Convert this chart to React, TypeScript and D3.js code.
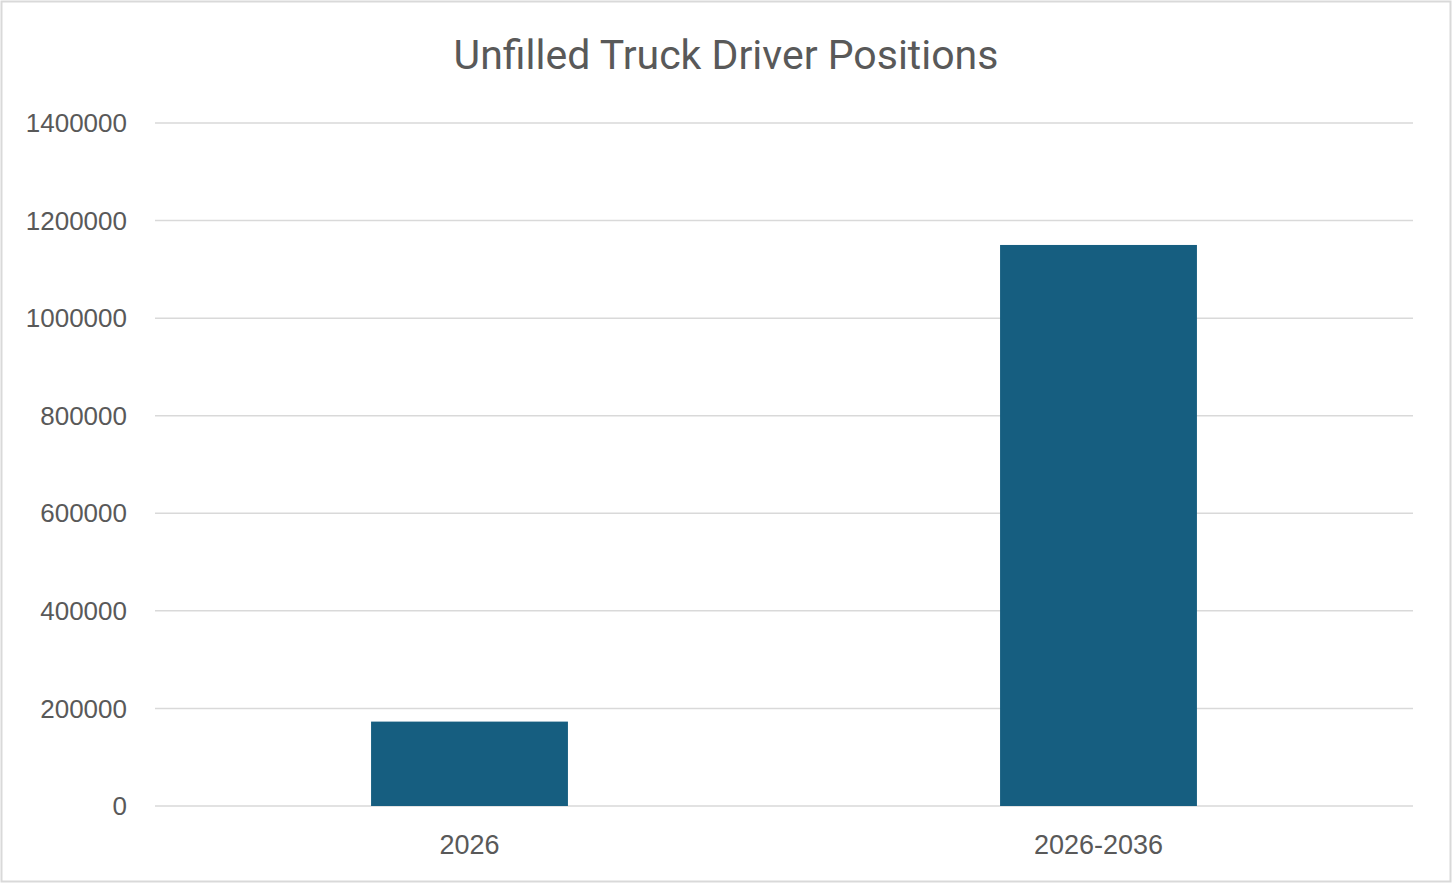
import React, { useRef, useEffect } from 'react';
import * as d3 from 'd3';

const categories = ['2026', '2026-2036'];
const values = [173000, 1150000];
const yTicks = [0, 200000, 400000, 600000, 800000, 1000000, 1200000, 1400000];

const colors = {
  bar: '#165E80',
  text: '#595959',
  grid: '#D9D9D9',
};

const App: React.FC = () => {
  const svgRef = useRef<SVGSVGElement>(null);
  const width = 1456;
  const height = 889;

  useEffect(() => {
    document.body.style.margin = '0';
    if (!svgRef.current) return;
    const svg = d3.select(svgRef.current);
    svg.selectAll('*').remove();

    const margin = { top: 123, right: 43, bottom: 83, left: 155 };
    const w = width - margin.left - margin.right;
    const h = height - margin.top - margin.bottom;

    // outer frame
    svg.append('rect')
      .attr('x', 1.5)
      .attr('y', 1.5)
      .attr('width', 1449)
      .attr('height', 880)
      .attr('fill', '#fff')
      .attr('stroke', colors.grid)
      .attr('stroke-width', 2);

    const g = svg.append('g')
      .attr('transform', `translate(${margin.left},${margin.top})`);

    const x = d3.scaleBand<string>()
      .domain(categories)
      .range([0, w])
      .paddingInner(0.687)
      .paddingOuter(0.3435);

    const y = d3.scaleLinear()
      .domain([0, 1400000])
      .range([h, 0]);

    // gridlines
    g.selectAll('.grid')
      .data(yTicks)
      .enter()
      .append('line')
      .attr('x1', 0)
      .attr('x2', w)
      .attr('y1', d => y(d))
      .attr('y2', d => y(d))
      .attr('stroke', colors.grid)
      .attr('stroke-width', 1.5);

    // bars
    g.selectAll('.bar')
      .data(values)
      .enter()
      .append('rect')
      .attr('x', (d, i) => x(categories[i])!)
      .attr('y', d => y(d))
      .attr('width', x.bandwidth())
      .attr('height', d => h - y(d))
      .attr('fill', colors.bar);

    // y tick labels
    g.selectAll('.ylab')
      .data(yTicks)
      .enter()
      .append('text')
      .attr('x', -28)
      .attr('y', d => y(d))
      .attr('dy', '0.35em')
      .attr('text-anchor', 'end')
      .attr('font-family', '"Liberation Sans", Arial, sans-serif')
      .attr('font-size', '26px')
      .attr('fill', colors.text)
      .text(d => String(d));

    // x labels
    g.selectAll('.xlab')
      .data(categories)
      .enter()
      .append('text')
      .attr('x', d => x(d)! + x.bandwidth() / 2)
      .attr('y', h + 39)
      .attr('dy', '0.35em')
      .attr('text-anchor', 'middle')
      .attr('font-family', '"Liberation Sans", Arial, sans-serif')
      .attr('font-size', '27px')
      .attr('fill', colors.text)
      .text(d => d);

    // title
    svg.append('text')
      .attr('x', 726)
      .attr('y', 55)
      .attr('dy', '0.35em')
      .attr('text-anchor', 'middle')
      .attr('font-family', 'Roboto, Arial, sans-serif')
      .attr('font-size', '41px')
      .attr('fill', colors.text)
      .text('Unfilled Truck Driver Positions');
  }, []);

  return <svg ref={svgRef} width={width} height={height} style={{ display: 'block' }} />;
};

export default App;
